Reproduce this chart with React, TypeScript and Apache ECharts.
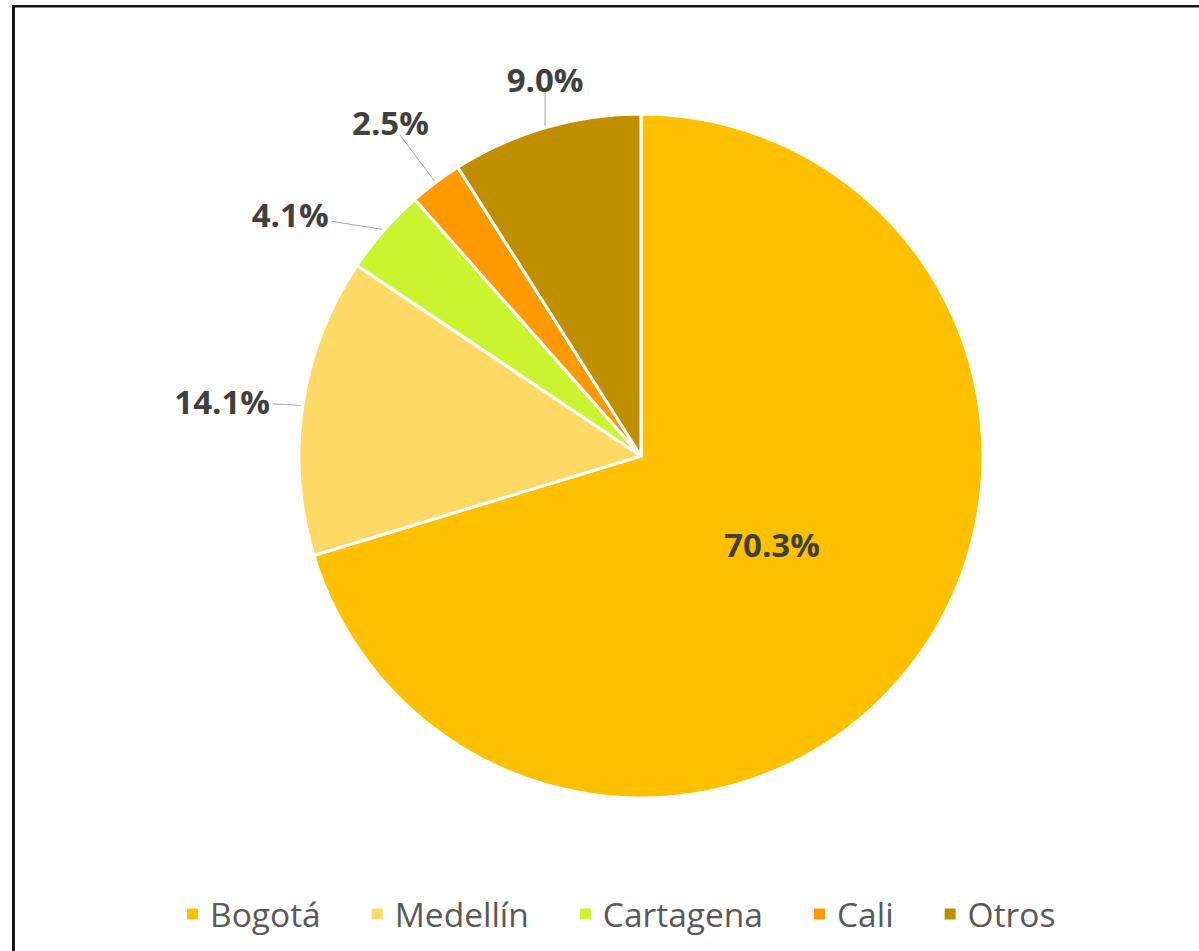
import React, { useEffect, useRef } from "react";
import * as echarts from "echarts";

const categories = ["Bogotá", "Medellín", "Cartagena", "Cali", "Otros"];
const shares = [70.3, 14.1, 4.1, 2.5, 9.0];
const colors = ["#FFC000", "#FFD966", "#C9F42F", "#FF9900", "#BF8F00"];

// layout (not data)
const CENTER: [number, number] = [641, 456];
const RADIUS = 342;
// label centre distance from pie centre, as a ratio of radius, and angular nudge (degrees)
const LABEL_DIST = [0.462, 1.235, 1.245, 1.22, 1.135];
const LABEL_NUDGE = [-2.6, -1.0, -6.7, 0, 1.9];

export default function App() {
  const ref = useRef<HTMLDivElement>(null);

  useEffect(() => {
    if (!ref.current) return;
    const chart = echarts.init(ref.current, null, { renderer: "svg" });
    const total = shares.reduce((a, b) => a + b, 0);
    const cum: number[] = [];
    let acc = 0;
    shares.forEach((v) => {
      cum.push(acc);
      acc += v;
    });
    const dirOf = (i: number, nudgeDeg: number) => {
      const a = (2 * Math.PI * (cum[i] + shares[i] / 2)) / total + (nudgeDeg * Math.PI) / 180;
      return [Math.sin(a), -Math.cos(a)];
    };

    chart.setOption({
      animation: false,
      backgroundColor: "#ffffff",
      graphic: [
        {
          type: "line",
          shape: { x1: 12, y1: 6.2, x2: 1199, y2: 6.2 },
          style: { stroke: "#161616", lineWidth: 2.4 },
        },
        {
          type: "line",
          shape: { x1: 13.5, y1: 5, x2: 13.5, y2: 951 },
          style: { stroke: "#161616", lineWidth: 3 },
        },
      ],
      legend: {
        data: categories,
        orient: "horizontal",
        left: 180,
        top: 889,
        icon: "rect",
        itemWidth: 13,
        itemHeight: 13,
        itemGap: 49,
        textStyle: {
          fontFamily: "Open Sans",
          fontSize: 33.5,
          lineHeight: 40,
          color: "#595959",
          padding: [0, 0, 0, 6],
        },
      },
      series: [
        {
          type: "pie",
          center: CENTER,
          radius: RADIUS,
          startAngle: 90,
          clockwise: true,
          data: categories.map((name, i) => ({
            name,
            value: shares[i],
            itemStyle: { color: colors[i] },
            label: { position: i === 0 ? "inside" : "outside" },
          })),
          itemStyle: { borderColor: "#ffffff", borderWidth: 3 },
          label: {
            show: true,
            formatter: (p: any) => Number(p.value).toFixed(1) + "%",
            fontFamily: "Open Sans",
            fontWeight: "bold",
            fontSize: 33,
            color: "#404040",
          },
          labelLine: {
            show: true,
            length: 10,
            length2: 10,
            lineStyle: { color: "#A6A6A6", width: 1 },
          },
          emphasis: { disabled: true },
          labelLayout: (params: any) => {
            const i = params.dataIndex;
            const d = dirOf(i, LABEL_NUDGE[i]);
            const w = params.labelRect.width;
            const h = params.labelRect.height;
            const L = RADIUS * LABEL_DIST[i];
            const cx = CENTER[0] + d[0] * L;
            const cy = CENTER[1] + d[1] * L;
            if (i === 0) {
              return { x: cx, y: cy, align: "center", verticalAlign: "middle" };
            }
            const b = dirOf(i, 0);
            const p0 = [CENTER[0] + b[0] * (RADIUS + 2), CENTER[1] + b[1] * (RADIUS + 2)];
            let ux = p0[0] - cx;
            let uy = p0[1] - cy;
            const len = Math.hypot(ux, uy) || 1;
            ux /= len;
            uy /= len;
            const hw = w / 2 + 3;
            const hh = h / 2 - 4;
            const t = Math.min(
              Math.abs(ux) > 1e-6 ? hw / Math.abs(ux) : Infinity,
              Math.abs(uy) > 1e-6 ? hh / Math.abs(uy) : Infinity
            );
            const p1 = [cx + ux * t, cy + uy * t];
            return {
              x: cx,
              y: cy,
              align: "center",
              verticalAlign: "middle",
              labelLinePoints: [p0, p1],
            };
          },
        },
      ],
    });

    return () => chart.dispose();
  }, []);

  return (
    <div
      ref={ref}
      style={{ position: "absolute", left: 0, top: 0, width: 1199, height: 951 }}
    />
  );
}
